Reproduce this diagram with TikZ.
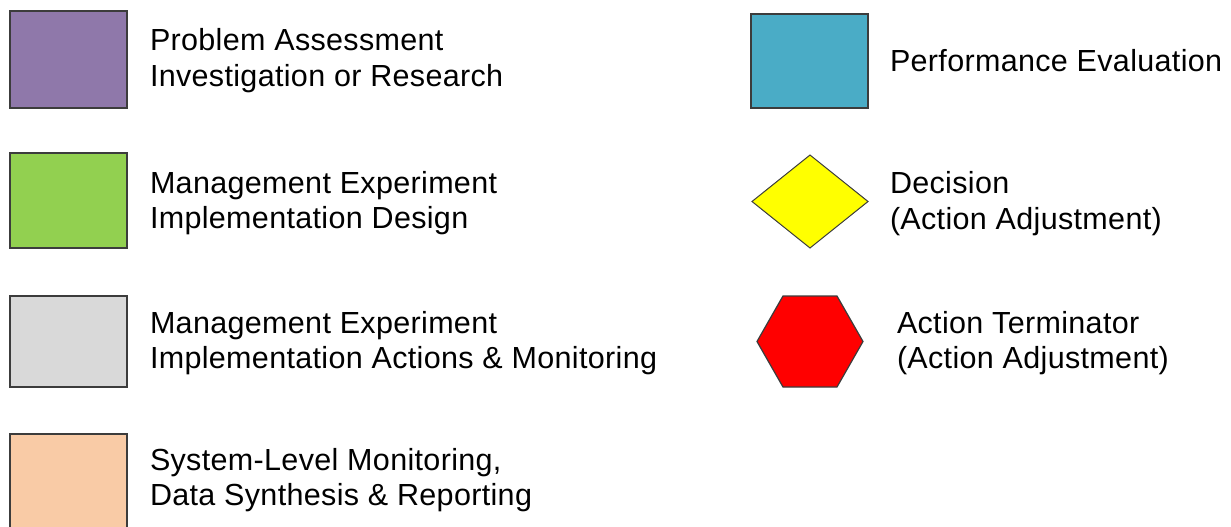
\documentclass[tikz,border=0pt]{standalone}
\usepackage{fontspec}
\setmainfont{Liberation Sans}[LetterSpace=1.1]
\usetikzlibrary{shapes.geometric}
\definecolor{cpurple}{HTML}{8F78AA}
\definecolor{cgreen}{HTML}{92D050}
\definecolor{cgray}{HTML}{D9D9D9}
\definecolor{corange}{HTML}{F9CBA6}
\definecolor{cteal}{HTML}{4AACC6}
\definecolor{cyellow}{HTML}{FFFF00}
\definecolor{cred}{HTML}{FF0000}
\definecolor{cborder}{HTML}{3C3C3C}
\begin{document}
\begin{tikzpicture}[x=1pt,y=-1pt,
  swatch/.style={draw=cborder,line width=1.5pt},
  label/.style={anchor=base west,inner sep=0pt,outer sep=0pt,font=\fontsize{30.5}{36}\selectfont}]
\useasboundingbox (0,0) rectangle (1231,527);
\begin{scope}
\clip (0,0) rectangle (1231,527);
% left column swatches
\path[swatch,fill=cpurple] (10,11) rectangle (127,108);
\path[swatch,fill=cgreen]  (10,153) rectangle (127,248);
\path[swatch,fill=cgray]   (10,296) rectangle (127,387);
\path[swatch,fill=corange] (10,434) rectangle (127,540);
% right column
\path[swatch,fill=cteal] (751,14) rectangle (868,108);
\path[draw=cborder,line width=1pt,fill=cyellow] (752,201.5) -- (810,155) -- (868,201.5) -- (810,248) -- cycle;
\path[swatch,line width=1.2pt,fill=cred] (757,341.5) -- (783,296) -- (837,296) -- (863,341.5) -- (837,387) -- (783,387) -- cycle;
\end{scope}
% labels
\node[label] (a1) at (150,51) {Problem Assessment};
\node[label] (a2) at (150,86) {Investigation or Research};
\node[label] (b1) at (150,193) {Management Experiment};
\node[label] (b2) at (150,228) {Implementation Design};
\node[label] (c1) at (150,333) {Management Experiment};
\node[label] (c2) at (150,368) {Implementation Actions \& Monitoring};
\node[label] (d1) at (150,470) {System-Level Monitoring,};
\node[label] (d2) at (150,505) {Data Synthesis \& Reporting};
\node[label] (e1) at (890,71) {Performance Evaluation};
\node[label] (f1) at (890,193) {Decision};
\node[label] (f2) at (890,229) {(Action Adjustment)};
\node[label] (g1) at (897,333) {Action Terminator};
\node[label] (g2) at (897,368) {(Action Adjustment)};
\end{tikzpicture}
\end{document}
